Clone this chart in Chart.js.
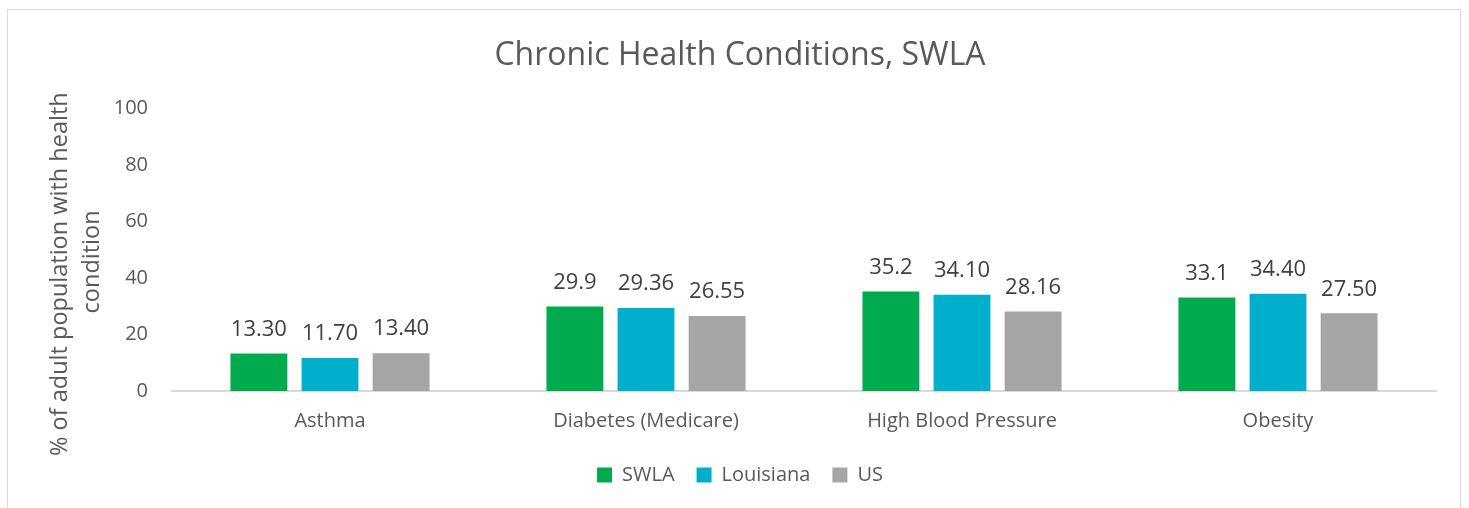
<!DOCTYPE html>
<html>
<head>
<meta charset="utf-8">
<script src="https://cdn.jsdelivr.net/npm/chart.js@4.4.0/dist/chart.umd.min.js"></script>
<style>
  html, body { margin: 0; padding: 0; background: #fff; }
  #frame {
    position: absolute; left: 7px; top: 9px;
    width: 1454px; height: 520px;
    border: 1px solid #d9d9d9; box-sizing: border-box;
  }
  #wrap { position: absolute; left: 0; top: 0; width: 1469px; height: 508px; }
</style>
</head>
<body>
<div id="frame"></div>
<div id="wrap"><canvas id="chronic"></canvas></div>
<script>
var categories = ["Asthma", "Diabetes (Medicare)", "High Blood Pressure", "Obesity"];
var swla = [13.3, 29.9, 35.2, 33.1];
var louisiana = [11.7, 29.36, 34.1, 34.4];
var us = [13.4, 26.55, 28.16, 27.5];
// labels as printed on the chart
var swlaLabels = ["13.30", "29.9", "35.2", "33.1"];
var louisianaLabels = ["11.70", "29.36", "34.10", "34.40"];
var usLabels = ["13.40", "26.55", "28.16", "27.50"];
var yTicks = [0, 20, 40, 60, 80, 100];

var fontFamily = "'Open Sans', 'Noto Sans', sans-serif";

// draws the value above each bar
var valueLabels = {
    id: 'valueLabels',
    afterDatasetsDraw: function (chart) {
        var ctx = chart.ctx;
        ctx.save();
        ctx.font = "22px " + fontFamily;
        ctx.fillStyle = "#404040";
        ctx.textAlign = "center";
        ctx.textBaseline = "bottom";
        chart.data.datasets.forEach(function (ds, i) {
            var meta = chart.getDatasetMeta(i);
            meta.data.forEach(function (bar, j) {
                ctx.fillText(ds.valueText[j], bar.x, bar.y - 13);
            });
        });
        ctx.restore();
    }
};

var ctx = document.getElementById("chronic").getContext("2d");
var chronicChart = new Chart(ctx, {
    type: 'bar',
    data: {
        labels: categories,
        datasets: [
            { label: "SWLA", data: swla, valueText: swlaLabels, backgroundColor: "#00AB4E" },
            { label: "Louisiana", data: louisiana, valueText: louisianaLabels, backgroundColor: "#00AFCB" },
            { label: "US", data: us, valueText: usLabels, backgroundColor: "#A5A5A5" }
        ]
    },
    options: {
        responsive: true,
        maintainAspectRatio: false,
        animation: false,
        layout: { padding: { left: 44, right: 33, top: 20, bottom: 13 } },
        datasets: {
            bar: { categoryPercentage: 0.675, barPercentage: 0.8 }
        },
        plugins: {
            title: {
                display: true,
                text: "Chronic Health Conditions, SWLA",
                color: "#595959",
                font: { family: fontFamily, size: 32, weight: 'normal' },
                padding: { top: 17, bottom: 33 }
            },
            legend: {
                position: 'bottom',
                labels: {
                    color: "#595959",
                    font: { family: fontFamily, size: 20 },
                    boxWidth: 15, boxHeight: 15,
                    padding: 22
                }
            },
            tooltip: { enabled: false }
        },
        scales: {
            x: {
                grid: { display: false },
                border: { color: "#d9d9d9", width: 2 },
                ticks: {
                    color: "#595959",
                    font: { family: fontFamily, size: 20 },
                    padding: 10
                }
            },
            y: {
                min: 0, max: 100,
                grid: { display: false },
                border: { display: false },
                afterBuildTicks: function (axis) {
                    axis.ticks = yTicks.map(function (v) { return { value: v }; });
                },
                afterFit: function (axis) {
                    axis.width = 128;
                },
                ticks: {
                    color: "#595959",
                    font: { family: fontFamily, size: 20 },
                    padding: 16
                },
                title: {
                    display: true,
                    // trailing spaces push the text down, as in the original
                    text: ["% of adult population with health        ", "condition    "],
                    color: "#595959",
                    font: { family: fontFamily, size: 23.5, lineHeight: 1.38 },
                    padding: { top: 0, bottom: 0 }
                }
            }
        }
    },
    plugins: [valueLabels]
});
</script>
</body>
</html>
